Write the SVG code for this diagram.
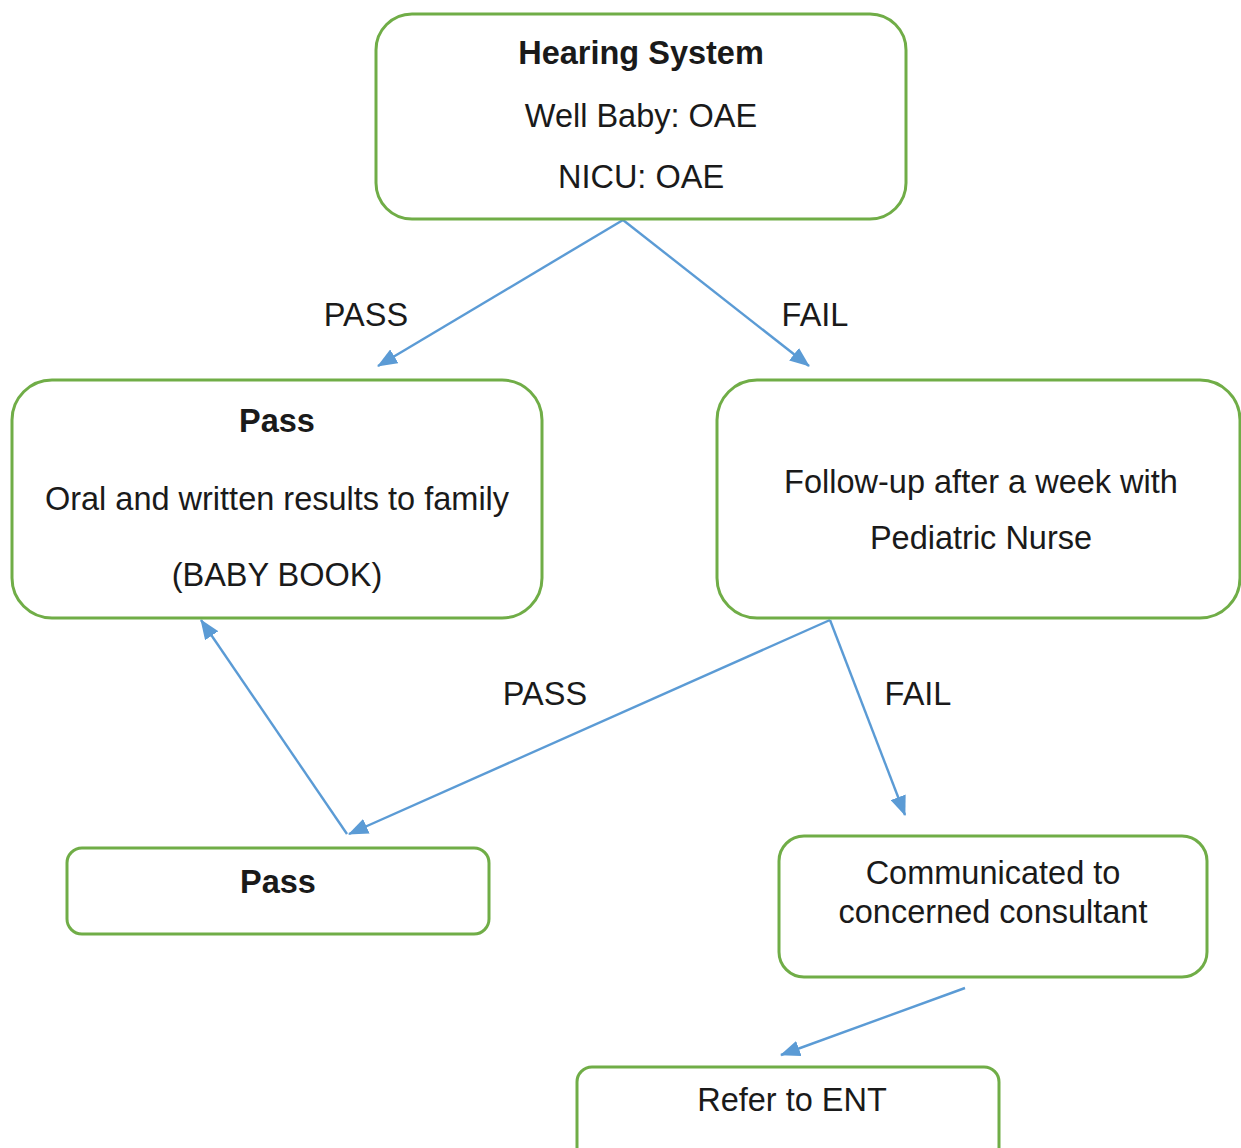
<svg xmlns="http://www.w3.org/2000/svg" width="1241" height="1148" viewBox="0 0 1241 1148">
<style>
.box{fill:#fff;stroke:#70ad47;stroke-width:3}
.t{font-family:"Liberation Sans",Arial,sans-serif;font-size:32.5px;fill:#1a1a1a;text-anchor:middle}
.b{font-weight:bold}
.c{stroke:#5b9bd5;stroke-width:2.4;fill:none}
</style>
<defs>
<marker id="ah" markerUnits="userSpaceOnUse" markerWidth="20" markerHeight="16" viewBox="0 0 20 16" refX="19" refY="8" orient="auto">
<path d="M0,0 L20,8 L0,16 z" fill="#5b9bd5"/>
</marker>
</defs>
<rect width="1241" height="1148" fill="#fff"/>
<g id="connectors">
<line class="c" x1="623" y1="220" x2="378" y2="366" marker-end="url(#ah)"/>
<line class="c" x1="623" y1="220" x2="809" y2="366" marker-end="url(#ah)"/>
<line class="c" x1="830" y1="620" x2="349" y2="834" marker-end="url(#ah)"/>
<line class="c" x1="830" y1="620" x2="905" y2="815" marker-end="url(#ah)"/>
<line class="c" x1="347" y1="834" x2="201" y2="620" marker-end="url(#ah)"/>
<line class="c" x1="965" y1="988" x2="781" y2="1055" marker-end="url(#ah)"/>
<text class="t" x="366" y="326">PASS</text>
<text class="t" x="815" y="326">FAIL</text>
<text class="t" x="545" y="705">PASS</text>
<text class="t" x="918" y="705">FAIL</text>
</g>
<g id="hearing">
<rect class="box" x="376" y="14" width="530" height="205" rx="36"/>
<text class="t b" x="641" y="64">Hearing System</text>
<text class="t" x="641" y="127">Well Baby: OAE</text>
<text class="t" x="641" y="188">NICU: OAE</text>
</g>
<g id="pass1">
<rect class="box" x="12" y="380" width="530" height="238" rx="40"/>
<text class="t b" x="277" y="432">Pass</text>
<text class="t" x="277" y="510">Oral and written results to family</text>
<text class="t" x="277" y="586">(BABY BOOK)</text>
</g>
<g id="followup">
<rect class="box" x="717" y="380" width="523" height="238" rx="40"/>
<text class="t" x="981" y="493">Follow-up after a week with</text>
<text class="t" x="981" y="549">Pediatric Nurse</text>
</g>
<g id="pass2">
<rect class="box" x="67" y="848" width="422" height="86" rx="15"/>
<text class="t b" x="278" y="893">Pass</text>
</g>
<g id="communicated">
<rect class="box" x="779" y="836" width="428" height="141" rx="25"/>
<text class="t" x="993" y="884">Communicated to</text>
<text class="t" x="993" y="923">concerned consultant</text>
</g>
<g id="ent">
<rect class="box" x="577" y="1067" width="422" height="100" rx="15"/>
<text class="t" x="792" y="1111">Refer to ENT</text>
</g>
</svg>
